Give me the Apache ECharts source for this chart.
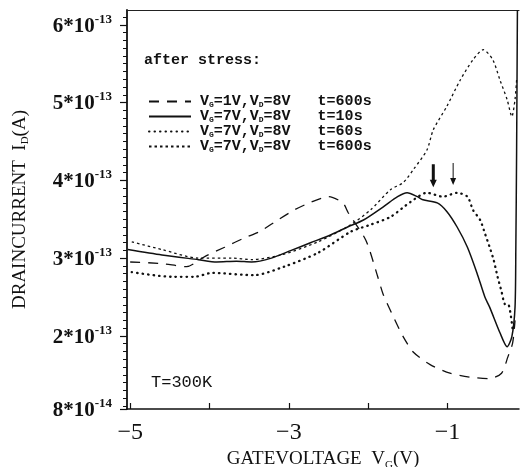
<!DOCTYPE html>
<html>
<head>
<meta charset="utf-8">
<script src="https://cdn.jsdelivr.net/npm/echarts@6/dist/echarts.min.js"></script>
<style>
  html, body { margin: 0; padding: 0; background: #fff; }
  #main { width: 522px; height: 467px; }
</style>
</head>
<body>
<div id="main"></div>
<script>
// drain current in units of 1e-13 A, gate voltage in V
// curves

// VG=1V, VD=8V, t=600s (dashed)
var stress1_600 = [
  [-5.00, 2.95], [-4.60, 2.93], [-4.29, 2.89], [-4.06, 3.02], [-3.81, 3.14],
  [-3.56, 3.26], [-3.37, 3.34], [-3.14, 3.49], [-2.93, 3.62], [-2.72, 3.72],
  [-2.50, 3.79], [-2.32, 3.71], [-2.25, 3.58], [-2.03, 3.23], [-1.88, 2.76],
  [-1.81, 2.53], [-1.68, 2.24], [-1.56, 1.99], [-1.43, 1.79], [-1.22, 1.63],
  [-0.97, 1.52], [-0.72, 1.47], [-0.47, 1.45], [-0.32, 1.52], [-0.24, 1.73],
  [-0.18, 1.91], [-0.15, 2.20]
];
// VG=7V, VD=8V, t=10s (solid)
var stress7_10 = [
  [-5.03, 3.11], [-4.60, 3.04], [-4.14, 2.98], [-3.91, 2.95], [-3.66, 2.96],
  [-3.47, 2.95], [-3.22, 3.00], [-2.97, 3.10], [-2.72, 3.20], [-2.47, 3.30],
  [-2.26, 3.40], [-2.06, 3.49], [-1.81, 3.66], [-1.63, 3.79], [-1.51, 3.84],
  [-1.38, 3.79], [-1.31, 3.75], [-1.13, 3.71], [-1.01, 3.60], [-0.88, 3.40],
  [-0.75, 3.14], [-0.63, 2.81], [-0.53, 2.50], [-0.47, 2.37], [-0.34, 2.04],
  [-0.25, 1.86], [-0.19, 1.99], [-0.15, 2.37], [-0.14, 3.11], [-0.13, 4.39],
  [-0.12, 6.19]
];
// VG=7V, VD=8V, t=60s (dots)
var stress7_60 = [
  [-4.98, 2.82], [-4.48, 2.76], [-4.19, 2.76], [-3.97, 2.81], [-3.44, 2.78],
  [-3.06, 2.89], [-2.63, 3.07], [-2.22, 3.34], [-1.97, 3.43], [-1.72, 3.53],
  [-1.47, 3.72], [-1.26, 3.84], [-1.06, 3.79], [-0.88, 3.84], [-0.75, 3.79],
  [-0.68, 3.62], [-0.59, 3.49], [-0.53, 3.32], [-0.47, 3.14], [-0.42, 2.98],
  [-0.37, 2.76], [-0.32, 2.57], [-0.28, 2.41], [-0.23, 2.40], [-0.18, 2.08]
];
// VG=7V, VD=8V, t=600s (fine dots)
var stress7_600 = [
  [-4.98, 3.21], [-4.60, 3.11], [-4.14, 3.00], [-3.72, 3.00], [-3.47, 2.98],
  [-3.10, 3.04], [-2.63, 3.21], [-2.22, 3.43], [-1.97, 3.62], [-1.72, 3.88],
  [-1.56, 3.97], [-1.43, 4.14], [-1.26, 4.39], [-1.18, 4.65], [-1.01, 4.95],
  [-0.84, 5.29], [-0.68, 5.55], [-0.55, 5.68], [-0.43, 5.55], [-0.34, 5.29],
  [-0.25, 5.04], [-0.19, 4.82], [-0.15, 5.04], [-0.13, 5.29]
];

var legendNames = ['s1_600', 's7_10', 's7_60', 's7_600'];
var legendText = [
  ['1V', '8V   t=600s'],
  ['7V', '8V   t=10s'],
  ['7V', '8V   t=60s'],
  ['7V', '8V   t=600s']
];

var xTickValues = [-5, -4, -3, -2, -1];
var xLabelValues = [-5, -3, -1];
var yTickValues = [1.06, 2, 3, 4, 5, 6];
var yTickLabels = [['8', '-14'], ['2', '-13'], ['3', '-13'], ['4', '-13'], ['5', '-13'], ['6', '-13']];
// arrows marking the two peaks
var arrowPos = [[-1.18, 4.06], [-0.93, 4.08]];

var yMinor = [];
for (var v = 1.1; v < 6.15; v += 0.1) yMinor.push(Math.round(v * 100) / 100);

var serif = '"Liberation Serif", "DejaVu Serif", serif';
var mono = '"Liberation Mono", "DejaVu Sans Mono", monospace';

var myChart = echarts.init(document.getElementById('main'));

function lineSeries(name, data, ls, extra) {
  var s = {
    name: name, type: 'line', data: data, symbol: 'none', smooth: 0.25,
    lineStyle: ls, itemStyle: { color: '#111' }, z: 3
  };
  for (var k in extra) s[k] = extra[k];
  return s;
}

var option = {
  backgroundColor: '#fff',
  animation: false,
  title: [
    { text: 'after stress:', left: 139, top: 48,
      textStyle: { fontFamily: mono, fontWeight: 'bold', fontSize: 15, color: '#111' } },
    { text: 'T=300K', left: 146, top: 369,
      textStyle: { fontFamily: mono, fontWeight: 'normal', fontSize: 17, color: '#111' } }
  ],
  legend: {
    data: legendNames,
    orient: 'vertical',
    left: 143, top: 89,
    itemWidth: 42, itemHeight: 13, itemGap: 0,
    itemStyle: { color: 'rgba(0,0,0,0)', borderWidth: 0, opacity: 0 },
    formatter: function (name) {
      var t = legendText[legendNames.indexOf(name)];
      return '{b|V}{s|G}{b|=' + t[0] + ',V}{s|D}{b|=' + t[1] + '}';
    },
    textStyle: {
      padding: [0, 0, 0, 4],
      rich: {
        b: { fontFamily: mono, fontWeight: 'bold', fontSize: 15, color: '#111', lineHeight: 14 },
        s: { fontFamily: mono, fontWeight: 'bold', fontSize: 8, color: '#111', lineHeight: 14, verticalAlign: 'bottom' }
      }
    }
  },
  grid: { left: 127, right: 3, top: 10, bottom: 58, outerBoundsMode: 'none' },
  xAxis: [{
    type: 'value', min: -5.04, max: -0.1,
    name: '{t|GATEVOLTAGE  V}{s|G}{t|(V)}',
    nameLocation: 'middle', nameGap: 36,
    nameTextStyle: {
      rich: {
        t: { fontFamily: serif, fontSize: 19, color: '#111', lineHeight: 22 },
        s: { fontFamily: serif, fontSize: 11, color: '#111', lineHeight: 22, verticalAlign: 'bottom' }
      }
    },
    axisLine: { lineStyle: { color: '#111', width: 1.5 } },
    axisTick: { inside: true, length: 6, customValues: xTickValues, lineStyle: { color: '#111', width: 1.2 } },
    axisLabel: {
      customValues: xLabelValues, margin: 12,
      fontFamily: serif, fontSize: 24, color: '#111',
      formatter: function (v) { return '\u2212' + Math.abs(v); }
    },
    splitLine: { show: false }
  }, {
    type: 'value', min: -5.04, max: -0.1, position: 'top',
    axisLine: { lineStyle: { color: '#222', width: 1.2 } },
    axisTick: { show: false }, axisLabel: { show: false }, splitLine: { show: false }
  }],
  yAxis: [{
    type: 'value', min: 1.06, max: 6.19,
    name: '{t|DRAINCURRENT  I}{s|D}{t|(A)}',
    nameLocation: 'middle', nameGap: 96, nameRotate: 90,
    nameTextStyle: {
      rich: {
        t: { fontFamily: serif, fontSize: 19, color: '#111', lineHeight: 22 },
        s: { fontFamily: serif, fontSize: 11, color: '#111', lineHeight: 22, verticalAlign: 'bottom' }
      }
    },
    axisLine: { lineStyle: { color: '#111', width: 1.8 } },
    axisTick: { length: 7, customValues: yTickValues, lineStyle: { color: '#111', width: 1.2 } },
    axisLabel: {
      customValues: yTickValues, margin: 15,
      formatter: function (v) {
        var i = yTickValues.indexOf(v);
        if (i < 0) return '';
        return '{b|' + yTickLabels[i][0] + '*10}{p|' + yTickLabels[i][1] + '}';
      },
      rich: {
        b: { fontFamily: serif, fontWeight: 'bold', fontSize: 21, color: '#111', lineHeight: 24, verticalAlign: 'bottom' },
        p: { fontFamily: serif, fontWeight: 'bold', fontSize: 13, color: '#111', lineHeight: 24, verticalAlign: 'top' }
      }
    },
    splitLine: { show: false }
  }, {
    type: 'value', min: 1.06, max: 6.19, position: 'left',
    axisLine: { show: false },
    axisTick: { length: 4, customValues: yMinor, lineStyle: { color: '#111', width: 1 } },
    axisLabel: { show: false }, splitLine: { show: false }
  }],
  series: [
    lineSeries('s1_600', stress1_600, { color: '#111', width: 1.3, type: [10, 8] }, {}),
    lineSeries('s7_10', stress7_10, { color: '#111', width: 1.5, type: 'solid' }, {}),
    lineSeries('s7_60', stress7_60, { color: '#111', width: 2.3, type: [0.5, 5], cap: 'round' }, {
      markPoint: {
        silent: true,
        label: { show: false },
        data: [
          { coord: arrowPos[0], symbol: 'path://M2,0 L5,0 L5,15 L7,15 L3.5,22 L0,15 L2,15 Z', symbolSize: [7, 23], itemStyle: { color: '#111', opacity: 1 } },
          { coord: arrowPos[1], symbol: 'path://M2.5,0 L3.5,0 L3.5,15 L6,15 L3,22 L0,15 L2.5,15 Z', symbolSize: [6, 22], itemStyle: { color: '#111', opacity: 1 } }
        ]
      }
    }),
    lineSeries('s7_600', stress7_600, { color: '#111', width: 1.3, type: [2.5, 3] }, {})
  ]
};

myChart.setOption(option);
</script>
</body>
</html>
